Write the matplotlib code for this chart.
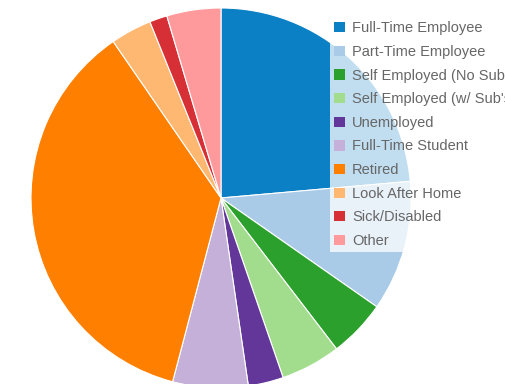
import matplotlib.pyplot as plt
from matplotlib.patches import Patch

# Employment status breakdown (percent)
labels = ['Full-Time Employee', 'Part-Time Employee', 'Self Employed (No Sub\'s)',
          "Self Employed (w/ Sub's)", 'Unemployed', 'Full-Time Student',
          'Retired', 'Look After Home', 'Sick/Disabled', 'Other']
shares = [23.6, 11.1, 4.9, 5.1, 3.0, 6.4, 36.3, 3.5, 1.5, 4.6]
colors = ['#0b80c4', '#a9cbe8', '#2ca02c', '#a2dd8e', '#63379a',
          '#c4b0d8', '#ff8000', '#ffb871', '#d62f35', '#ff9a9c']

fig = plt.figure(figsize=(5.06, 3.84), dpi=100)
ax = fig.add_axes([0, 0, 1, 1])

# Pie starts at 12 o'clock and runs clockwise
ax.pie(shares, colors=colors, startangle=90, counterclock=False, radius=1,
       wedgeprops=dict(edgecolor='white', linewidth=0.8))

r = 190.0
cx, cy = 221.0, 198.0
ax.set_xlim(-cx / r, (506 - cx) / r)
ax.set_ylim(-(384 - cy) / r, cy / r)
ax.set_aspect('equal')
ax.axis('off')

handles = [Patch(facecolor=c, edgecolor='none') for c in colors]
leg = ax.legend(handles, labels, loc='upper left',
                bbox_to_anchor=(330 / 506, 1 - 17 / 384),
                prop={'family': 'Liberation Sans', 'size': 10.5},
                labelcolor='#666666', frameon=True, fancybox=False,
                handlelength=0.7, handleheight=0.7, handletextpad=0.5,
                labelspacing=0.66, borderpad=0.3, borderaxespad=0)
leg.get_frame().set_facecolor('white')
leg.get_frame().set_alpha(0.75)
leg.get_frame().set_edgecolor('none')

fig.savefig('out.png', dpi=100)
